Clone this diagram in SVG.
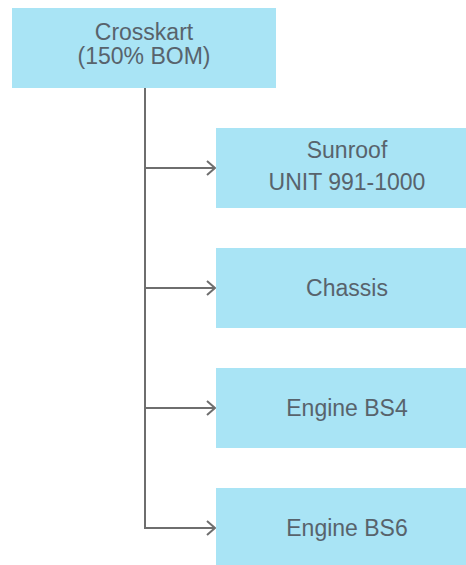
<svg xmlns="http://www.w3.org/2000/svg" width="466" height="565" viewBox="0 0 466 565">
<style>
.box{fill:#a9e4f5;}
.t{font-family:"Liberation Sans",Arial,sans-serif;font-size:23px;fill:#58636c;text-anchor:middle;}
.ln{fill:none;stroke:#6e6e6e;stroke-width:2;}
</style>
<defs>
<marker id="ah" markerWidth="12" markerHeight="16" refX="10" refY="8" orient="auto" markerUnits="userSpaceOnUse">
<path d="M2,1 L10,8 L2,15" fill="none" stroke="#6e6e6e" stroke-width="2"/>
</marker>
</defs>
<rect width="466" height="565" fill="#ffffff"/>
<g id="connectors">
<path class="ln" d="M145,88 V528"/>
<path class="ln" d="M145,168 H215" marker-end="url(#ah)"/>
<path class="ln" d="M145,288 H215" marker-end="url(#ah)"/>
<path class="ln" d="M145,408 H215" marker-end="url(#ah)"/>
<path class="ln" d="M144,528 H215" marker-end="url(#ah)"/>
</g>
<g id="root">
<rect class="box" x="12" y="8" width="264" height="80"/>
<text class="t" x="144" y="40">Crosskart</text>
<text class="t" x="144" y="64">(150% BOM)</text>
</g>
<g id="sunroof">
<rect class="box" x="216" y="128" width="262" height="80"/>
<text class="t" x="347" y="158">Sunroof</text>
<text class="t" x="347" y="190">UNIT 991-1000</text>
</g>
<g id="chassis">
<rect class="box" x="216" y="248" width="262" height="80"/>
<text class="t" x="347" y="296">Chassis</text>
</g>
<g id="engine-bs4">
<rect class="box" x="216" y="368" width="262" height="80"/>
<text class="t" x="347" y="416">Engine BS4</text>
</g>
<g id="engine-bs6">
<rect class="box" x="216" y="488" width="262" height="80"/>
<text class="t" x="347" y="536">Engine BS6</text>
</g>
</svg>
